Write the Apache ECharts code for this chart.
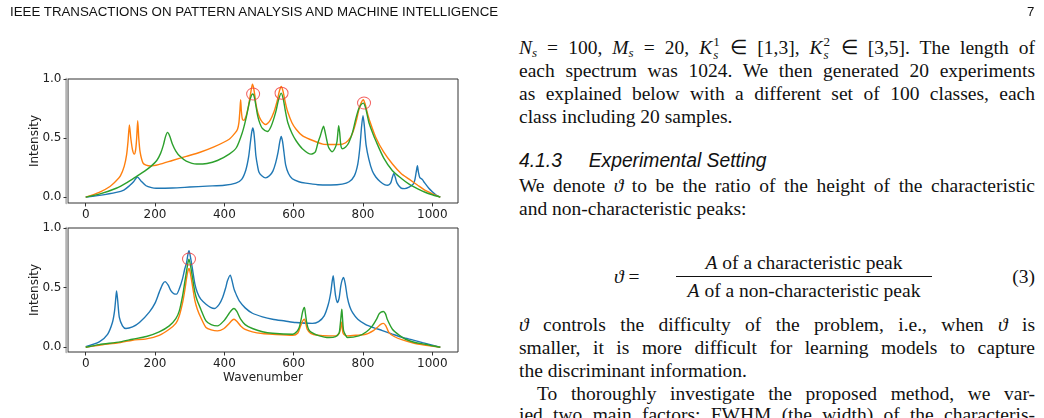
<!DOCTYPE html>
<html>
<head>
<meta charset="utf-8">
<script src="https://cdn.jsdelivr.net/npm/echarts@6/dist/echarts.min.js"></script>
<style>
  html, body { margin: 0; padding: 0; background: #fff; }
  body { width: 1044px; height: 418px; position: relative; overflow: hidden; }
  #fig { position: absolute; left: 0; top: 0; width: 500px; height: 418px; }
  .hdr { position: absolute; top: 4px; font-family: "Liberation Sans", Arial, sans-serif; font-size: 13.3px; color: #111; white-space: nowrap; }
  .ln { position: absolute; left: 519px; width: 516px; height: 23px; line-height: 23px;
        font-family: "Liberation Serif", serif; font-size: 19.5px; color: #111; white-space: nowrap; }
  .j { text-align: justify; text-align-last: justify; }
  .head { font-family: "Liberation Sans", Arial, sans-serif; font-style: italic; font-size: 19.3px; }
  .ss { position: relative; display: inline-block; width: 8px; height: 10px; }
  .ss span { position: absolute; left: 1px; font-size: 13px; line-height: 13px; }
  .ss .up { top: -9px; }
  .ss .dn { top: 4px; font-style: italic; }
  sub { font-size: 13px; vertical-align: -3px; line-height: 0; font-style: italic; }
  .eq { position: absolute; font-family: "Liberation Serif", serif; font-size: 19.5px; color: #111; white-space: nowrap; line-height: 23px; }
  .bar { position: absolute; left: 676px; top: 276px; width: 256px; height: 1px; background: #111; }
</style>
</head>
<body>
<div id="fig"></div>

<div class="hdr" style="left:10px">IEEE TRANSACTIONS ON PATTERN ANALYSIS AND MACHINE INTELLIGENCE</div>
<div class="hdr" style="left:1027px">7</div>

<div class="ln j" style="top:36px"><span><i>N</i><sub>s</sub> = 100, <i>M</i><sub>s</sub> = 20, <i>K</i><span class="ss"><span class="up">1</span><span class="dn">s</span></span> ∈ [1,3], <i>K</i><span class="ss"><span class="up">2</span><span class="dn">s</span></span> ∈ [3,5]. The length of</span></div>
<div class="ln j" style="top:59px"><span>each spectrum was 1024. We then generated 20 experiments</span></div>
<div class="ln j" style="top:82px"><span>as explained below with a different set of 100 classes, each</span></div>
<div class="ln" style="top:105px">class including 20 samples.</div>
<div class="ln head" style="top:149px">4.1.3&nbsp;&nbsp;&nbsp;&nbsp;&nbsp;Experimental Setting</div>
<div class="ln j" style="top:174px"><span>We denote <i>ϑ</i> to be the ratio of the height of the characteristic</span></div>
<div class="ln" style="top:197px">and non-characteristic peaks:</div>

<div class="eq" style="left:614px; top:265px"><i>ϑ</i> =</div>
<div class="eq" style="left:676px; width:256px; text-align:center; top:251px"><i>A</i> of a characteristic peak</div>
<div class="bar"></div>
<div class="eq" style="left:676px; width:256px; text-align:center; top:279px"><i>A</i> of a non-characteristic peak</div>
<div class="eq" style="left:985px; width:50px; text-align:right; top:265px">(3)</div>

<div class="ln j" style="top:313px"><span><i>ϑ</i> controls the difficulty of the problem, i.e., when <i>ϑ</i> is</span></div>
<div class="ln j" style="top:336px"><span>smaller, it is more difficult for learning models to capture</span></div>
<div class="ln" style="top:359px">the discriminant information.</div>
<div class="ln j" style="top:382px; left:537px; width:498px"><span>To thoroughly investigate the proposed method, we var-</span></div>
<div class="ln j" style="top:403px"><span>ied two main factors: FWHM (the width) of the characteris-</span></div>

<script>
// top panel spectra: [wavenumber, intensity]
var topBlue = [[0,0],[40,0.015],[88,0.04],[110,0.06],[126,0.096],[138,0.13],[149,0.17],[160,0.135],[174,0.096],[190,0.08],[203,0.075],[250,0.077],[300,0.085],[350,0.093],[400,0.1],[433,0.118],[450,0.15],[462,0.23],[470,0.34],[475,0.46],[479,0.55],[482,0.585],[485,0.55],[488,0.46],[491,0.35],[496,0.26],[500,0.21],[508,0.18],[519,0.163],[530,0.18],[540,0.22],[548,0.29],[555,0.38],[560,0.47],[564,0.514],[568,0.47],[572,0.38],[577,0.27],[585,0.2],[596,0.155],[615,0.13],[635,0.118],[670,0.105],[707,0.103],[740,0.11],[760,0.13],[775,0.18],[785,0.28],[791,0.42],[796,0.6],[800,0.69],[804,0.6],[809,0.44],[817,0.32],[827,0.22],[837,0.17],[850,0.13],[862,0.105],[872,0.1],[880,0.12],[885,0.17],[889,0.2],[893,0.17],[898,0.12],[909,0.078],[920,0.072],[933,0.085],[945,0.11],[950,0.15],[954,0.22],[957,0.265],[960,0.21],[964,0.165],[971,0.15],[978,0.12],[990,0.075],[1000,0.045],[1010,0.02],[1023,0]];
var topOrange = [[0,0],[39,0.04],[70,0.09],[88,0.138],[100,0.18],[111,0.26],[118,0.36],[122,0.47],[126,0.61],[130,0.5],[135,0.4],[140,0.364],[144,0.4],[147,0.5],[150,0.647],[153,0.5],[157,0.38],[165,0.29],[174,0.27],[188,0.263],[210,0.275],[250,0.31],[290,0.345],[330,0.38],[370,0.425],[414,0.49],[430,0.54],[438,0.575],[442,0.63],[445,0.74],[447,0.825],[449,0.73],[452,0.66],[456,0.65],[462,0.68],[468,0.75],[473,0.83],[477,0.9],[481,0.957],[484,0.93],[488,0.86],[491,0.79],[497,0.71],[506,0.65],[519,0.615],[532,0.65],[543,0.72],[552,0.81],[559,0.9],[564,0.937],[569,0.9],[576,0.8],[583,0.72],[595,0.63],[607,0.575],[625,0.52],[646,0.49],[684,0.449],[707,0.445],[730,0.445],[750,0.46],[765,0.51],[774,0.576],[782,0.66],[788,0.74],[795,0.8],[801,0.825],[806,0.79],[812,0.72],[820,0.64],[837,0.505],[860,0.38],[885,0.28],[910,0.2],[933,0.152],[958,0.1],[981,0.054],[1000,0.028],[1023,0]];
var topGreen = [[0,0],[39,0.025],[88,0.075],[120,0.125],[149,0.18],[170,0.22],[188,0.26],[205,0.31],[216,0.37],[224,0.44],[230,0.51],[236,0.548],[242,0.52],[250,0.45],[260,0.39],[272,0.345],[290,0.305],[320,0.28],[350,0.285],[380,0.31],[414,0.364],[435,0.42],[452,0.548],[462,0.66],[472,0.8],[478,0.86],[482,0.873],[487,0.84],[496,0.69],[503,0.62],[510,0.58],[524,0.555],[535,0.6],[548,0.717],[556,0.82],[564,0.88],[570,0.83],[576,0.73],[583,0.632],[595,0.54],[607,0.477],[625,0.41],[650,0.364],[662,0.38],[670,0.46],[677,0.52],[682,0.57],[686,0.6],[690,0.56],[695,0.49],[701,0.42],[711,0.384],[720,0.42],[725,0.47],[728,0.56],[730,0.605],[733,0.54],[736,0.44],[740,0.41],[750,0.425],[759,0.46],[770,0.55],[779,0.66],[788,0.75],[795,0.785],[801,0.796],[808,0.75],[817,0.632],[827,0.55],[837,0.477],[860,0.33],[885,0.223],[910,0.16],[933,0.11],[958,0.07],[981,0.039],[1000,0.02],[1023,0]];
var topMarks = [[483,0.873],[565,0.88],[803,0.797]];

// bottom panel spectra
var botBlue = [[0,0.005],[39,0.045],[63,0.108],[77,0.207],[83,0.3],[87,0.42],[89,0.473],[92,0.4],[97,0.25],[106,0.18],[116,0.157],[135,0.17],[155,0.207],[184,0.297],[200,0.37],[212,0.46],[222,0.53],[229,0.55],[238,0.52],[246,0.473],[255,0.447],[262,0.445],[270,0.49],[279,0.571],[286,0.66],[291,0.71],[295,0.78],[298,0.809],[302,0.76],[308,0.655],[315,0.53],[322,0.46],[332,0.403],[347,0.361],[360,0.335],[371,0.325],[385,0.36],[395,0.417],[404,0.5],[409,0.557],[417,0.605],[422,0.56],[428,0.487],[436,0.43],[443,0.389],[460,0.33],[481,0.285],[510,0.255],[539,0.235],[575,0.22],[606,0.207],[654,0.2],[672,0.215],[688,0.263],[700,0.36],[707,0.459],[711,0.55],[714,0.599],[717,0.53],[721,0.43],[726,0.375],[731,0.41],[736,0.515],[740,0.565],[744,0.585],[749,0.53],[755,0.417],[762,0.34],[770,0.291],[785,0.235],[808,0.19],[830,0.165],[856,0.14],[885,0.11],[914,0.082],[945,0.06],[972,0.039],[1000,0.018],[1023,0]];
var botOrange = [[0,0],[39,0.017],[100,0.04],[135,0.059],[175,0.07],[212,0.1],[241,0.151],[260,0.2],[270,0.263],[280,0.38],[286,0.48],[291,0.58],[295,0.64],[298,0.66],[302,0.62],[308,0.515],[315,0.39],[322,0.319],[332,0.249],[347,0.165],[362,0.145],[380,0.137],[398,0.155],[414,0.2],[422,0.225],[428,0.235],[435,0.22],[447,0.179],[460,0.15],[481,0.129],[510,0.115],[539,0.109],[597,0.101],[612,0.12],[620,0.179],[626,0.22],[631,0.235],[635,0.2],[639,0.151],[649,0.117],[670,0.1],[702,0.095],[721,0.095],[731,0.115],[735,0.151],[739,0.213],[742,0.123],[748,0.1],[755,0.095],[780,0.1],[808,0.109],[830,0.14],[841,0.165],[850,0.19],[859,0.2],[866,0.18],[875,0.123],[890,0.09],[914,0.061],[945,0.035],[981,0.017],[1023,0]];
var botGreen = [[0,0],[39,0.022],[100,0.045],[135,0.067],[175,0.09],[212,0.129],[241,0.179],[260,0.24],[270,0.305],[280,0.44],[286,0.55],[291,0.64],[295,0.71],[298,0.739],[302,0.69],[308,0.585],[315,0.46],[322,0.389],[332,0.319],[347,0.221],[362,0.19],[380,0.179],[398,0.22],[414,0.285],[422,0.315],[428,0.325],[436,0.3],[447,0.235],[460,0.19],[481,0.157],[510,0.13],[539,0.117],[597,0.109],[610,0.135],[616,0.165],[622,0.24],[626,0.3],[631,0.333],[634,0.28],[638,0.2],[643,0.15],[649,0.129],[670,0.1],[702,0.081],[721,0.089],[731,0.12],[734,0.179],[737,0.27],[739,0.319],[741,0.24],[744,0.14],[750,0.1],[755,0.081],[788,0.095],[810,0.13],[827,0.179],[840,0.24],[846,0.277],[852,0.295],[859,0.3],[865,0.28],[870,0.235],[885,0.151],[905,0.1],[923,0.067],[950,0.04],[981,0.025],[1000,0.012],[1023,0]];
var botMarks = [[298,0.74]];

var xTicks = [0, 200, 400, 600, 800, 1000];
var yTicks = [0, 0.5, 1.0];
var colors = ['#1f77b4', '#ff7f0e', '#2ca02c'];

// squeeze any justified line that is naturally wider than its box
document.querySelectorAll('.ln.j').forEach(function (el) {
    var inner = el.firstElementChild;
    el.style.textAlignLast = 'left';
    el.style.textAlign = 'left';
    var natural = inner.getBoundingClientRect().width;
    var box = el.clientWidth;
    if (natural > box) {
        var n = el.textContent.length;
        el.style.letterSpacing = (-(natural - box) / n).toFixed(3) + 'px';
    }
    el.style.textAlignLast = '';
    el.style.textAlign = '';
});

var chart = echarts.init(document.getElementById('fig'), null, { renderer: 'canvas' });

function xAxisFor(idx, name) {
    return {
        type: 'value', gridIndex: idx, min: -51.15, max: 1074.15,
        name: name, nameLocation: 'middle', nameGap: 20, nameMoveOverlap: false,
        nameTextStyle: { fontFamily: 'DejaVu Sans', fontSize: 12, color: '#222' },
        axisLine: { show: false, onZero: false },
        splitLine: { show: false },
        axisTick: { show: true, customValues: xTicks, length: 3.5, lineStyle: { color: '#333' } },
        axisLabel: {
            customValues: xTicks, margin: 6, fontFamily: 'DejaVu Sans', fontSize: 12, color: '#222',
            formatter: function (v) { return String(v); }
        }
    };
}
function yAxisFor(idx, min) {
    return {
        type: 'value', gridIndex: idx, min: min, max: 1.0,
        name: 'Intensity', nameLocation: 'middle', nameGap: 26, nameRotate: 90, nameMoveOverlap: false,
        nameTextStyle: { fontFamily: 'DejaVu Sans', fontSize: 12, color: '#222' },
        axisLine: { show: true, onZero: false, lineStyle: { color: '#b4b4b4', width: 2.5 } },
        offset: 1.5,
        splitLine: { show: false },
        axisTick: { show: true, customValues: yTicks, length: 3, lineStyle: { color: '#333' } },
        axisLabel: {
            customValues: yTicks, margin: 5, fontFamily: 'DejaVu Sans', fontSize: 12, color: '#222',
            formatter: function (v) { return v.toFixed(1); }
        }
    };
}
function line(idx, data, color) {
    return {
        type: 'line', xAxisIndex: idx, yAxisIndex: idx, data: data,
        showSymbol: false, smooth: 0.25, silent: true, animation: false,
        lineStyle: { color: color, width: 1.4 }
    };
}
function marks(idx, data) {
    return {
        type: 'scatter', xAxisIndex: idx, yAxisIndex: idx, data: data,
        symbol: 'circle', symbolSize: [13, 12], silent: true, animation: false, z: 5,
        itemStyle: { color: 'rgba(0,0,0,0)', borderColor: '#f03c3c', borderWidth: 1 }
    };
}

var option = {
    animation: false,
    grid: [
        { left: 68, top: 79, width: 390, height: 124, show: true, borderColor: '#333', borderWidth: 1 },
        { left: 68, top: 228, width: 390, height: 124, show: true, borderColor: '#333', borderWidth: 1 }
    ],
    xAxis: [xAxisFor(0, ''), xAxisFor(1, 'Wavenumber')],
    yAxis: [yAxisFor(0, -0.05), yAxisFor(1, -0.04)],
    series: [
        line(0, topBlue, colors[0]), line(0, topOrange, colors[1]), line(0, topGreen, colors[2]), marks(0, topMarks),
        line(1, botBlue, colors[0]), line(1, botOrange, colors[1]), line(1, botGreen, colors[2]), marks(1, botMarks)
    ]
};
chart.setOption(option);
</script>
</body>
</html>
